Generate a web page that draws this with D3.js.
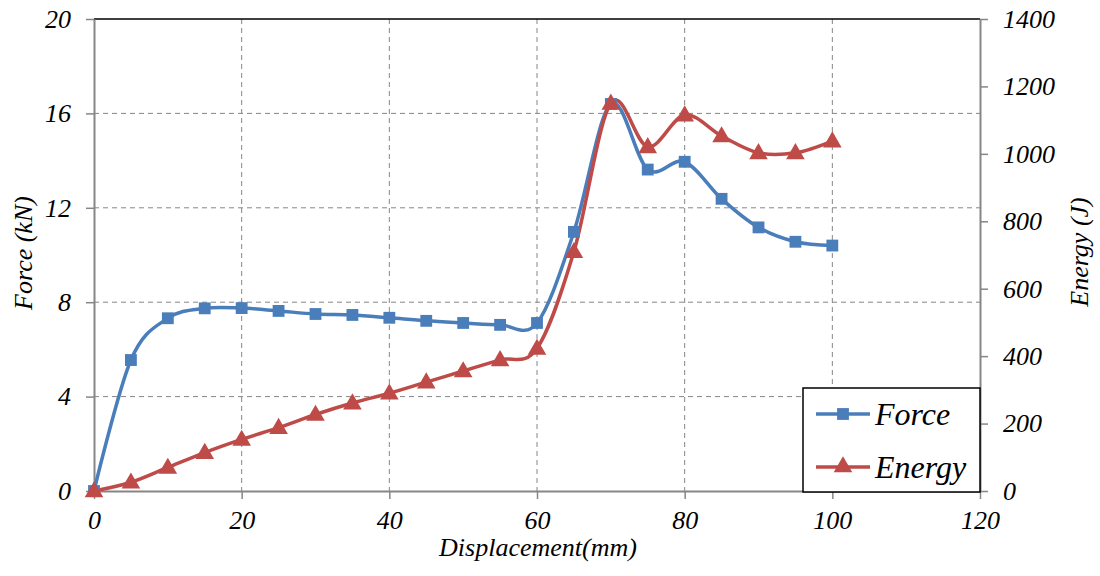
<!DOCTYPE html>
<html><head><meta charset="utf-8">
<script src="https://cdn.jsdelivr.net/npm/d3@7"></script>
<style>body{margin:0;background:#fff;}svg{display:block;}</style>
</head><body>
<svg id="c" width="1100" height="576"></svg>
<script>
const displacement = [0,5,10,15,20,25,30,35,40,45,50,55,60,65,70,75,80,85,90,95,100];
const force = [0,5.55,7.32,7.74,7.75,7.63,7.5,7.46,7.34,7.21,7.12,7.04,7.12,10.98,16.4,13.62,13.95,12.38,11.17,10.56,10.4];
const energy = [0,26,70,114,153,188,227,261,290,323,356,389,423,710,1150,1021,1115,1053,1003,1003,1038];
const xTicks = [0,20,40,60,80,100,120];
const forceTicks = [0,4,8,12,16,20];
const energyTicks = [0,200,400,600,800,1000,1200,1400];
const seriesNames = ["Force","Energy"];

const L=94, R=980, T=19, B=491;
const svg = d3.select("#c");
const x = d3.scaleLinear().domain([0,120]).range([L,R]);
const yF = d3.scaleLinear().domain([0,20]).range([B,T]);
const yE = d3.scaleLinear().domain([0,1400]).range([B,T]);
const font = "Liberation Serif";
const axisCol = "#868686";
const blue="#4A7EBB", red="#BE4B48";

// grid
svg.append("g").selectAll("line").data(xTicks.filter(d=>d>0&&d<120)).join("line")
 .attr("x1",d=>x(d)).attr("x2",d=>x(d)).attr("y1",T).attr("y2",B)
 .attr("stroke",axisCol).attr("stroke-width",1).attr("stroke-dasharray","5,4");
svg.append("g").selectAll("line").data(forceTicks.filter(d=>d>0&&d<20)).join("line")
 .attr("x1",L).attr("x2",R).attr("y1",d=>yF(d)).attr("y2",d=>yF(d))
 .attr("stroke",axisCol).attr("stroke-width",1).attr("stroke-dasharray","5,4");
// top border
svg.append("line").attr("x1",L).attr("x2",R).attr("y1",T).attr("y2",T).attr("stroke","#000").attr("stroke-width",1.5);

function styleAxis(g){
  g.attr("font-family",font).attr("font-size",26).attr("font-style","italic");
  g.select(".domain").attr("stroke",axisCol).attr("stroke-width",2);
  g.selectAll(".tick line").attr("stroke",axisCol).attr("stroke-width",1.5);
  g.selectAll(".tick text").attr("fill","#000");
}
const fmt = d3.format("d");
svg.append("g").attr("transform",`translate(0,${B})`)
 .call(d3.axisBottom(x).tickValues(xTicks).tickFormat(fmt).tickSize(8).tickSizeOuter(0).tickPadding(12))
 .call(styleAxis);
svg.append("g").attr("transform",`translate(${L},0)`)
 .call(d3.axisLeft(yF).tickValues(forceTicks).tickFormat(fmt).tickSize(8).tickSizeOuter(0).tickPadding(15))
 .call(styleAxis);
svg.append("g").attr("transform",`translate(${R},0)`)
 .call(d3.axisRight(yE).tickValues(energyTicks).tickFormat(fmt).tickSize(8).tickSizeOuter(0).tickPadding(15))
 .call(styleAxis);

// titles
function title(sel){ return sel.attr("font-family",font).attr("font-style","italic").attr("font-size",26); }
svg.append("text").attr("x",538).attr("y",556).attr("text-anchor","middle").call(title).text("Displacement(mm)");
svg.append("text").attr("transform",`translate(32,253) rotate(-90)`).attr("text-anchor","middle").call(title).text("Force (kN)");
svg.append("text").attr("transform",`translate(1088,252) rotate(-90)`).attr("text-anchor","middle").call(title).text("Energy (J)");

const curve = d3.curveCardinal.tension(0);
const fData = displacement.map((d,i)=>[d,force[i]]);
const eData = displacement.map((d,i)=>[d,energy[i]]);
svg.append("path").datum(fData).attr("fill","none").attr("stroke",blue).attr("stroke-width",3.5)
 .attr("d",d3.line().x(d=>x(d[0])).y(d=>yF(d[1])).curve(curve));
svg.append("path").datum(eData).attr("fill","none").attr("stroke",red).attr("stroke-width",3.5)
 .attr("d",d3.line().x(d=>x(d[0])).y(d=>yE(d[1])).curve(curve));

const sq = d3.symbol().type(d3.symbolSquare).size(140);
const tri = d3.symbol().type(d3.symbolTriangle).size(150);
svg.append("g").selectAll("path").data(fData).join("path").attr("d",sq)
 .attr("transform",d=>`translate(${x(d[0])},${yF(d[1])})`).attr("fill",blue);
svg.append("g").selectAll("path").data(eData).join("path").attr("d",tri)
 .attr("transform",d=>`translate(${x(d[0])},${yE(d[1])+1})`).attr("fill",red);

// legend
const lg = svg.append("g");
lg.append("rect").attr("x",803).attr("y",388).attr("width",177).attr("height",104)
 .attr("fill","#fff").attr("stroke","#000").attr("stroke-width",1.5);
const entries = [{n:seriesNames[0],c:blue,s:sq,y:414},{n:seriesNames[1],c:red,s:tri,y:467}];
entries.forEach(e=>{
  lg.append("line").attr("x1",816).attr("x2",870).attr("y1",e.y).attr("y2",e.y).attr("stroke",e.c).attr("stroke-width",3.5);
  lg.append("path").attr("d",e.s).attr("transform",`translate(843,${e.y})`).attr("fill",e.c);
  lg.append("text").attr("x",875).attr("y",e.y+11).attr("font-family",font).attr("font-style","italic")
    .attr("font-size",32).text(e.n);
});
</script>
</body></html>
